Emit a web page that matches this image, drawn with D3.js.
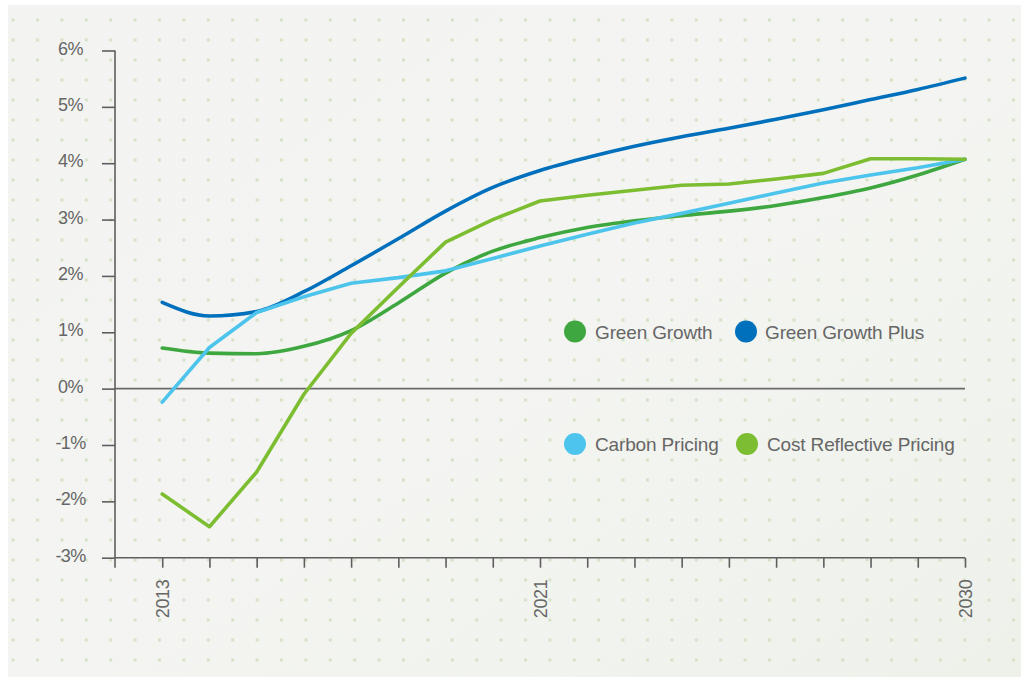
<!DOCTYPE html>
<html>
<head>
<meta charset="utf-8">
<script src="https://cdn.jsdelivr.net/npm/d3@7"></script>
<style>
  html, body { margin: 0; padding: 0; background: #ffffff; }
  svg { display: block; }
  text { font-family: "Liberation Sans", Arial, Helvetica, sans-serif; }
</style>
</head>
<body>
<svg id="chart" width="1027" height="681"></svg>
<script>
// Annual growth rate by scenario, 2013–2030 (%)
const years = d3.range(2013, 2031);
const greenGrowth      = [0.72, 0.63, 0.62, 0.75, 1.03, 1.52, 2.05, 2.44, 2.68, 2.86, 2.98, 3.07, 3.15, 3.25, 3.39, 3.56, 3.79, 4.07];
const greenGrowthPlus  = [1.53, 1.29, 1.37, 1.72, 2.18, 2.66, 3.15, 3.57, 3.87, 4.10, 4.30, 4.47, 4.62, 4.78, 4.95, 5.13, 5.31, 5.51];
const carbonPricing    = [-0.24, 0.73, 1.35, 1.63, 1.87, 1.97, 2.09, 2.31, 2.53, 2.74, 2.94, 3.11, 3.29, 3.47, 3.65, 3.79, 3.92, 4.07];
const costReflective   = [-1.87, -2.45, -1.48, -0.10, 0.98, 1.80, 2.60, 3.00, 3.33, 3.43, 3.52, 3.61, 3.63, 3.72, 3.82, 4.08, 4.08, 4.07];

const yTicks = [-3, -2, -1, 0, 1, 2, 3, 4, 5, 6];
const yearLabels = [2013, 2021, 2030];

const seriesNames  = ["Green Growth", "Green Growth Plus", "Carbon Pricing", "Cost Reflective Pricing"];
const seriesColors = ["#3fa73f", "#0070bd", "#4dc4ec", "#7dbd31"];
const seriesValues = [greenGrowth, greenGrowthPlus, carbonPricing, costReflective];
const seriesSmooth = [true, true, false, false];

const svg = d3.select("#chart");

// Panel background with a light dotted texture
const defs = svg.append("defs");
const grad = defs.append("linearGradient").attr("id", "panelFill")
  .attr("x1", "0").attr("y1", "0").attr("x2", "1").attr("y2", "1");
grad.append("stop").attr("offset", "0").attr("stop-color", "#f3f4f1");
grad.append("stop").attr("offset", "0.5").attr("stop-color", "#f4f5f2");
grad.append("stop").attr("offset", "1").attr("stop-color", "#eef1ea");

const pat = defs.append("pattern").attr("id", "dots")
  .attr("patternUnits", "userSpaceOnUse")
  .attr("x", 11.6).attr("y", -1.5)
  .attr("width", 24.4).attr("height", 20);
pat.append("rect").attr("width", 3).attr("height", 3).attr("fill", "#d6e2c8");

svg.append("rect").attr("x", 8).attr("y", 5).attr("width", 1013).attr("height", 672)
  .attr("fill", "url(#panelFill)");
svg.append("rect").attr("x", 8).attr("y", 5).attr("width", 1013).attr("height", 672)
  .attr("fill", "url(#dots)");

// Scales
const x = d3.scaleLinear().domain([2012, 2030]).range([115, 965]);
const y = d3.scaleLinear().domain([-3, 6]).range([557.7, 50.5]);

const axisColor = "#5e5e5e";
const labelColor = "#666666";

// Y axis
const yAxis = svg.append("g").attr("transform", `translate(${x(2012)},0)`)
  .call(d3.axisLeft(y).tickValues(yTicks).tickSize(13).tickFormat(""));
yAxis.select(".domain").attr("d", `M0,${y(6)}V${y(-3) + 10}`).attr("stroke", axisColor).attr("stroke-width", 1.6);
yAxis.selectAll(".tick line").attr("stroke", axisColor).attr("stroke-width", 1.6);

svg.append("g").selectAll("text").data(yTicks).join("text")
  .attr("x", 70.5).attr("y", d => y(d) + 4)
  .attr("text-anchor", "middle")
  .attr("font-size", 18).attr("fill", labelColor)
  .attr("letter-spacing", -0.6)
  .text(d => d + "%");

// X axis
const xAxis = svg.append("g").attr("transform", `translate(0,${y(-3)})`)
  .call(d3.axisBottom(x).tickValues(d3.range(2013, 2031)).tickSize(10).tickFormat(""));
xAxis.select(".domain").attr("d", `M${x(2012)},0H${x(2030)}`).attr("stroke", axisColor).attr("stroke-width", 1.6);
xAxis.selectAll(".tick line").attr("stroke", axisColor).attr("stroke-width", 1.6);

svg.append("g").selectAll("text").data(yearLabels).join("text")
  .attr("transform", d => `translate(${x(d) + 6.5},${y(-3) + 22}) rotate(-90)`)
  .attr("text-anchor", "end")
  .attr("font-size", 18).attr("fill", labelColor)
  .attr("letter-spacing", -0.4)
  .text(d => d);

// Zero line
svg.append("line")
  .attr("x1", x(2012)).attr("x2", x(2030))
  .attr("y1", y(0)).attr("y2", y(0))
  .attr("stroke", "#6a6a6a").attr("stroke-width", 1.6);

// Scenario lines
seriesValues.forEach((vals, i) => {
  const line = d3.line()
    .x((d, j) => x(years[j]))
    .y(d => y(d))
    .curve(seriesSmooth[i] ? d3.curveMonotoneX : d3.curveLinear);
  svg.append("path")
    .datum(vals)
    .attr("fill", "none")
    .attr("stroke", seriesColors[i])
    .attr("stroke-width", 3.6)
    .attr("stroke-linejoin", "round")
    .attr("stroke-linecap", "round")
    .attr("d", line);
});

// Legend
const legendPos = [
  { cx: 575, cy: 331.5, tx: 595 },
  { cx: 746, cy: 331.5, tx: 765 },
  { cx: 575, cy: 444,   tx: 595 },
  { cx: 747, cy: 444,   tx: 767 }
];
const legend = svg.append("g");
seriesNames.forEach((name, i) => {
  const p = legendPos[i];
  legend.append("circle").attr("cx", p.cx).attr("cy", p.cy).attr("r", 11)
    .attr("fill", seriesColors[i]);
  legend.append("text").attr("x", p.tx).attr("y", p.cy + 7)
    .attr("font-size", 19).attr("fill", labelColor)
    .attr("letter-spacing", -0.15)
    .text(name);
});
</script>
</body>
</html>
